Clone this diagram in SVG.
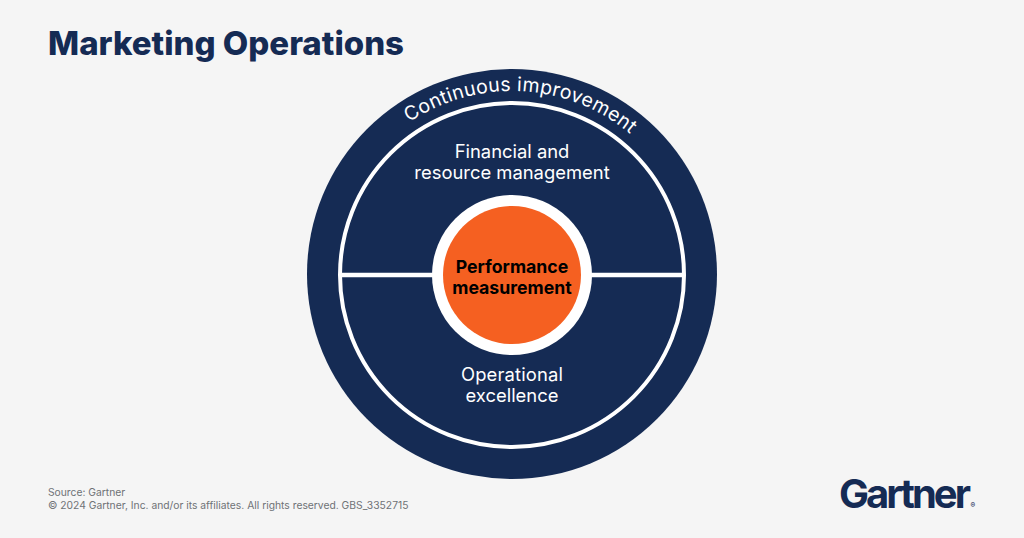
<svg xmlns="http://www.w3.org/2000/svg" width="1024" height="538" viewBox="0 0 1024 538">
<style>
text{font-family:Inter,"Liberation Sans",sans-serif}
.w{fill:#fff;font-size:18.4px;text-anchor:middle}
.b{fill:#000;font-size:17.7px;font-weight:700;text-anchor:middle}
.f{fill:#6f7276;font-size:10.3px}
</style>
<defs><path id="arc" d="M 328 275 A 184 184 0 0 1 696 275"/></defs>
<rect width="1024" height="538" fill="#f5f5f5"/>
<text x="48" y="55" font-size="33" font-weight="800" fill="#152b54">Marketing Operations</text>
<g id="outer"><circle cx="512" cy="274" r="205" fill="#152b54"/>
<text fill="#fff" font-size="19.500" letter-spacing="0.300" text-anchor="middle"><textPath href="#arc" startOffset="51.700%">Continuous improvement</textPath></text></g>
<g id="connectors"><path d="M340 275H684" stroke="#fff" stroke-width="4.500" fill="none"/></g>
<g id="ring"><circle cx="512" cy="275" r="172" fill="none" stroke="#fff" stroke-width="4"/></g>
<g id="financial"><text class="w" x="512" y="158">Financial and</text><text class="w" x="512" y="179">resource management</text></g>
<g id="operational"><text class="w" x="512" y="381" letter-spacing="0.150">Operational</text><text class="w" x="512" y="402">excellence</text></g>
<g id="performance"><circle cx="512" cy="275" r="80" fill="#fff"/><circle cx="512" cy="275" r="69" fill="#f56021"/>
<text class="b" x="512" y="273">Performance</text><text class="b" x="512" y="294">measurement</text></g>
<text class="f" x="48" y="496">Source: Gartner</text>
<text class="f" x="48" y="509">© 2024 Gartner, Inc. and/or its affiliates. All rights reserved. GBS_3352715</text>
<g id="logo"><text x="839" y="507.500" font-size="40" font-weight="700" fill="#152b54" letter-spacing="-3">Gartner</text><text x="970.500" y="508" font-size="7" font-weight="700" fill="#152b54">®</text></g>
</svg>
